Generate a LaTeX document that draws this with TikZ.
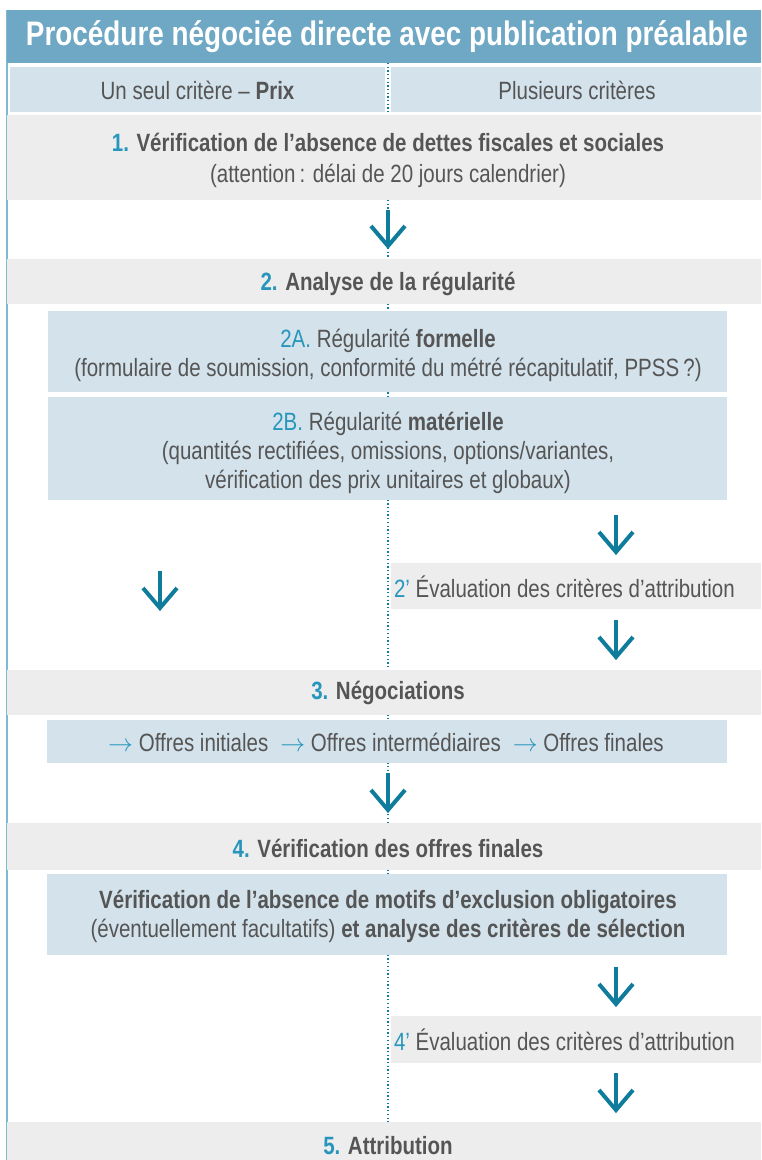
\documentclass[tikz,border=0pt]{standalone}
\usepackage{fontspec}
\setmainfont{Liberation Sans}[FakeStretch=0.82]
\definecolor{hdr}{HTML}{6FA8C4}
\definecolor{lite}{HTML}{D3E2EB}
\definecolor{grayrow}{HTML}{EDEDED}
\definecolor{txt}{HTML}{555555}
\definecolor{num}{HTML}{2796BC}
\definecolor{arr}{HTML}{0F7C9C}
\definecolor{edge}{HTML}{7DBBD2}
\newcommand\bodyfont{\fontsize{25}{29}\selectfont}
\newcommand\titlefont{\fontsize{34}{38}\selectfont\bfseries}
\newcommand\nm[1]{\textcolor{num}{#1}}
\newcommand\nmarr{\textcolor{num}{$\rightarrow$}}
\tikzset{
  boxbase/.style={inner sep=0pt, outer sep=0pt, draw=none},
  grayrow/.style={boxbase, fill=grayrow},
  litebox/.style={boxbase, fill=lite},
  label/.style={inner sep=0pt, outer sep=0pt, text=txt, align=center, font=\bodyfont},
  darr/.style={draw=arr, line width=4pt, line join=miter},
  divider/.style={draw=arr, line width=1.3pt, dash pattern=on 1.3pt off 2.4pt},
  leftedge/.style={draw=edge, line width=2pt},
}
\newcommand\downarr[4]{%
  \coordinate (#1a) at (#2,#3);
  \coordinate (#1b) at (#2,#4);
  \draw[darr] (#1a) -- (#1b);
  \draw[darr] (#1b) ++(-17,-20) -- (#1b) -- ++(17,-20);
}
\begin{document}
\begin{tikzpicture}[x=1pt,y=-1pt]
\useasboundingbox (0,0) rectangle (761,1160);
% divider and left edge
\coordinate (dtop) at (388,63);
\coordinate (dbot) at (388,1122);
\draw[divider] (dtop) -- (dbot);
\coordinate (etop) at (7,10);
\coordinate (ebot) at (7,1160);
\draw[leftedge] (etop) -- (ebot);
% header
\node[boxbase, fill=hdr, minimum width=754pt, minimum height=53pt, anchor=north west] (hdr) at (7,10) {};
\node[label, text=white, font=\titlefont] (title) at (387,37) {Procédure négociée directe avec publication préalable};
% sub header
\node[litebox, minimum width=375pt, minimum height=45pt] (subL) at (197.5,89.5) {};
\node[litebox, minimum width=370pt, minimum height=45pt] (subR) at (576,89.5) {};
\node[label] (subLt) at (197.5,90) {Un seul critère – \textbf{Prix}};
\node[label] (subRt) at (577,90) {Plusieurs critères};
% row 1
\node[grayrow, minimum width=754pt, minimum height=85pt] (r1) at (384,157.5) {};
\node[label] (r1t) at (388,160) {\textbf{\nm{1.} Vérification de l’absence de dettes fiscales et sociales}\\[2pt](attention\,: délai de 20 jours calendrier)};
\downarr{a1}{388}{210}{246}
% row 2
\node[grayrow, minimum width=754pt, minimum height=45pt] (r2) at (384,281.5) {};
\node[label] (r2t) at (388,284) {\textbf{\nm{2.} Analyse de la régularité}};
\node[litebox, minimum width=679pt, minimum height=81pt] (b2a) at (387.5,351.5) {};
\node[label] (b2at) at (388,355) {\nm{2A.} Régularité \textbf{formelle}\\(formulaire de soumission, conformité du métré récapitulatif, PPSS\,?)};
\node[litebox, minimum width=679pt, minimum height=103pt] (b2b) at (387.5,448.5) {};
\node[label] (b2bt) at (388,453) {\nm{2B.} Régularité \textbf{matérielle}\\(quantités rectifiées, omissions, options/variantes,\\vérification des prix unitaires et globaux)};
\downarr{a2r}{616}{515}{552}
\downarr{a2l}{160}{571}{608}
\node[grayrow, minimum width=370pt, minimum height=46pt] (b2p) at (576,586) {};
\node[label, anchor=west] (b2pt) at (394,587) {\nm{2’} Évaluation des critères d’attribution};
\downarr{a2r2}{616}{620}{657}
% row 3
\node[grayrow, minimum width=754pt, minimum height=45pt] (r3) at (384,692.5) {};
\node[label] (r3t) at (388,693) {\textbf{\nm{3.} Négociations}};
\node[litebox, minimum width=680pt, minimum height=43pt] (b3) at (387,741.5) {};
\node[label] (b3t) at (386,742) {\nmarr{} Offres initiales\hspace{12pt}\nmarr{} Offres intermédiaires\hspace{12pt}\nmarr{} Offres finales};
\downarr{a3}{388}{773}{810}
% row 4
\node[grayrow, minimum width=754pt, minimum height=47pt] (r4) at (384,846.5) {};
\node[label] (r4t) at (388,848) {\textbf{\nm{4.} Vérification des offres finales}};
\node[litebox, minimum width=680pt, minimum height=81pt] (b4) at (387,914.5) {};
\node[label] (b4t) at (388,916) {\textbf{Vérification de l’absence de motifs d’exclusion obligatoires}\\(éventuellement facultatifs) \textbf{et analyse des critères de sélection}};
\downarr{a4r}{616}{967}{1004}
\node[grayrow, minimum width=370pt, minimum height=47pt] (b4p) at (576,1039.5) {};
\node[label, anchor=west] (b4pt) at (394,1040) {\nm{4’} Évaluation des critères d’attribution};
\downarr{a4r2}{616}{1073}{1110}
% row 5
\node[grayrow, minimum width=754pt, minimum height=38pt, anchor=north west] (r5) at (7,1122) {};
\node[label] (r5t) at (388,1146) {\textbf{\nm{5.} Attribution}};
\end{tikzpicture}
\end{document}
